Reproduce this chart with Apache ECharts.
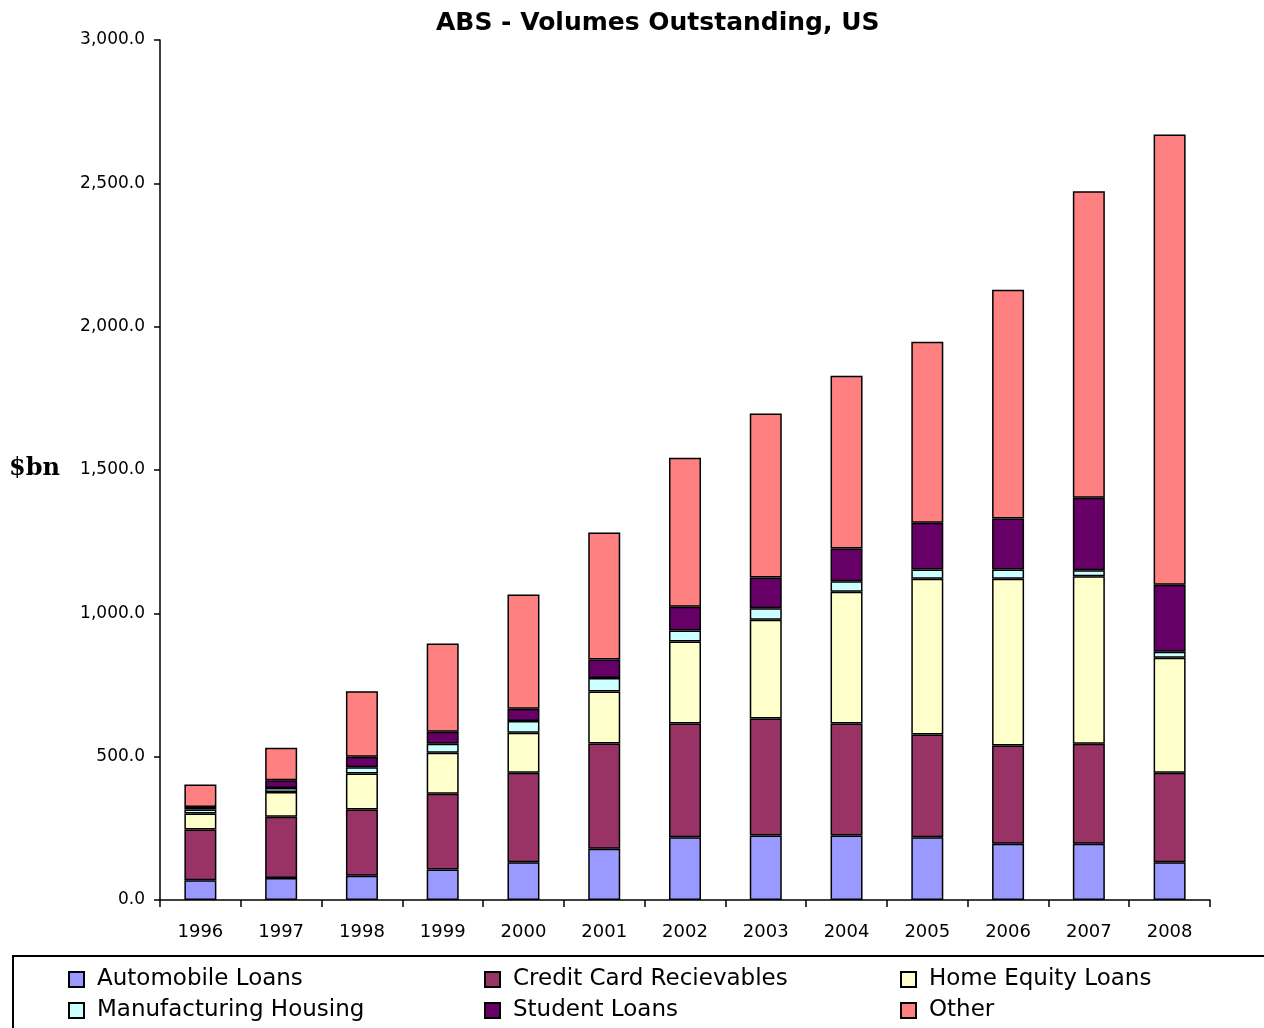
<!DOCTYPE html>
<html>
<head>
<meta charset="utf-8">
<script src="https://cdn.jsdelivr.net/npm/echarts@6/dist/echarts.min.js"></script>
<style>
html,body{margin:0;padding:0;background:#fff;}
#chart{width:1264px;height:1028px;}
</style>
</head>
<body>
<div id="chart"></div>
<script>
const years = ['1996','1997','1998','1999','2000','2001','2002','2003','2004','2005','2006','2007','2008'];
const automobileLoans = [69, 77, 85, 106, 132, 179, 219, 225, 225, 219, 196, 196, 132];
const creditCard = [177, 213, 231, 265, 312, 367, 397, 408, 391, 358, 343, 349, 312];
const homeEquity = [56, 87, 125, 143, 139, 181, 286, 345, 459, 544, 582, 584, 401];
const manufHousing = [14, 14, 22, 31, 41, 47, 38, 40, 37, 32, 32, 21, 21];
const studentLoans = [8, 27, 37, 42, 43, 65, 83, 107, 114, 163, 178, 253, 234];
const other = [79, 113, 228, 308, 399, 443, 520, 572, 603, 631, 798, 1069, 1570];
const yTicks = [0, 500, 1000, 1500, 2000, 2500, 3000];

const names = ['Automobile Loans','Credit Card Recievables','Home Equity Loans','Manufacturing Housing','Student Loans','Other'];
const colors = ['#9999FF','#993366','#FFFFCC','#CCFFFF','#660066','#FF8080'];
const values = [automobileLoans, creditCard, homeEquity, manufHousing, studentLoans, other];

const chart = echarts.init(document.getElementById('chart'));
const font = '"DejaVu Sans", "Liberation Sans", Arial, sans-serif';

const series = names.map((n, i) => ({
  name: n,
  type: 'bar',
  stack: 'total',
  barWidth: 32,
  data: values[i],
  itemStyle: { color: colors[i], borderColor: '#000', borderWidth: 1.5 },
  emphasis: { disabled: true }
}));

const legendCommon = {
  orient: 'vertical',
  top: 968,
  height: 70,
  padding: 0,
  itemWidth: 15,
  itemHeight: 15,
  itemGap: 8,
  icon: 'rect',
  selectedMode: false,
  textStyle: { fontFamily: font, fontSize: 23, color: '#000', padding: [0,0,0,8] }
};

chart.setOption({
  animation: false,
  backgroundColor: '#fff',
  title: {
    text: 'ABS - Volumes Outstanding, US',
    left: 436,
    top: 11,
    padding: 0,
    textStyle: { fontFamily: font, fontWeight: 'bold', fontSize: 25, color: '#000' }
  },
  grid: { left: 160, right: 54, top: 40, bottom: 128, containLabel: false },
  legend: [
    Object.assign({}, legendCommon, { left: 68, data: [names[0], names[3]] }),
    Object.assign({}, legendCommon, { left: 484, data: [names[1], names[4]] }),
    Object.assign({}, legendCommon, { left: 900, data: [names[2], names[5]] })
  ],
  xAxis: {
    type: 'category',
    data: years,
    axisLine: { lineStyle: { color: '#000', width: 1.5 } },
    axisTick: { show: true, alignWithLabel: false, length: 7, lineStyle: { color: '#000', width: 1.5 } },
    axisLabel: { color: '#000', fontFamily: font, fontSize: 18, margin: 23 },
    splitLine: { show: false }
  },
  yAxis: {
    type: 'value',
    min: 0,
    max: 3000,
    interval: 500,
    axisLine: { show: true, lineStyle: { color: '#000', width: 1.5 } },
    axisTick: { show: true, length: 6, lineStyle: { color: '#000', width: 1.5 } },
    axisLabel: {
      color: '#000', fontFamily: font, fontSize: 17, margin: 15,
      formatter: v => yTicks.includes(v) ? v.toLocaleString('en-US', {minimumFractionDigits: 1, maximumFractionDigits: 1}) : ''
    },
    splitLine: { show: false }
  },
  graphic: [
    {
      type: 'text', left: 9, top: 457,
      style: { text: '$bn', font: 'bold 24px "DejaVu Serif", "Liberation Serif", serif', fill: '#000' }
    },
    {
      type: 'rect', silent: true, z: -1,
      shape: { x: 13, y: 956, width: 1270, height: 90 },
      style: { fill: 'none', stroke: '#000', lineWidth: 2 }
    }
  ],
  series: series
});
</script>
</body>
</html>
